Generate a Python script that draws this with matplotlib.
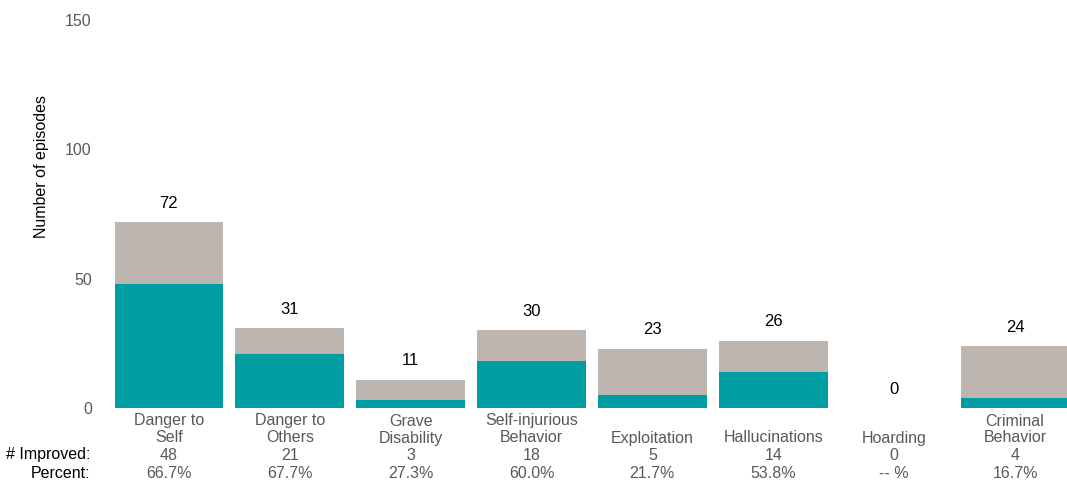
import matplotlib
matplotlib.use("Agg")
import matplotlib.pyplot as plt
import matplotlib.transforms as mtransforms

plt.rcParams['font.family'] = ['Liberation Sans', 'DejaVu Sans']

categories = ["Danger to\nSelf", "Danger to\nOthers", "Grave\nDisability", "Self-injurious\nBehavior",
              "Exploitation", "Hallucinations", "Hoarding", "Criminal\nBehavior"]
totals = [72, 31, 11, 30, 23, 26, 0, 24]
improved = [48, 21, 3, 18, 5, 14, 0, 4]
yticks = [0, 50, 100, 150]

teal = "#009DA3"
beige = "#BDB5AF"
gray_text = "#595959"

W, H = 1067, 487
fig = plt.figure(figsize=(W / 100, H / 100), dpi=100)
left_px, right_px = 108.5, 1075.5
top_px, bot_px = 20, 408
ax = fig.add_axes([left_px / W, (H - bot_px) / H, (right_px - left_px) / W, (bot_px - top_px) / H])

x = list(range(len(categories)))
ax.bar(x, totals, width=0.9, color=beige, zorder=1)
ax.bar(x, improved, width=0.9, color=teal, zorder=2)

ax.set_xlim(-0.5, len(categories) - 0.5)
ax.set_ylim(0, 150)
ax.set_yticks(yticks)
ax.set_yticklabels([str(t) for t in yticks], color=gray_text, fontsize=11.5)
ax.tick_params(axis='y', length=0, pad=12)
ax.set_xticks([])
for s in ax.spines.values():
    s.set_visible(False)

for xi, t in zip(x, totals):
    ax.annotate(str(t), (xi, t), xytext=(0, 13.5), textcoords='offset points',
                ha='center', va='center', fontsize=12, color='black')

# bottom table
trans = mtransforms.blended_transform_factory(ax.transData, fig.transFigure)
line_y = [421, 438, 455, 473]
def fy(py):
    return 1 - py / H

for xi, cat, imp, tot in zip(x, categories, improved, totals):
    parts = cat.split("\n")
    if len(parts) == 1:
        parts = ["", parts[0]]
    pct = f"{imp / tot * 100:.1f}%" if tot else "-- %"
    for txt, py in zip(parts + [str(imp), pct], line_y):
        if txt:
            ax.text(xi, fy(py), txt, transform=trans, ha='center', va='center',
                    fontsize=11.5, color=gray_text, clip_on=False)

fig.text(90 / W, fy(455), "# Improved:", ha='right', va='center', fontsize=11.5, color='black')
fig.text(90 / W, fy(473), "Percent:", ha='right', va='center', fontsize=11.5, color='black')

fig.text(42 / W, fy(166), "Number of episodes", rotation=90, ha='center', va='center',
         fontsize=11.5, color='black')

fig.savefig("out.png", dpi=100)
